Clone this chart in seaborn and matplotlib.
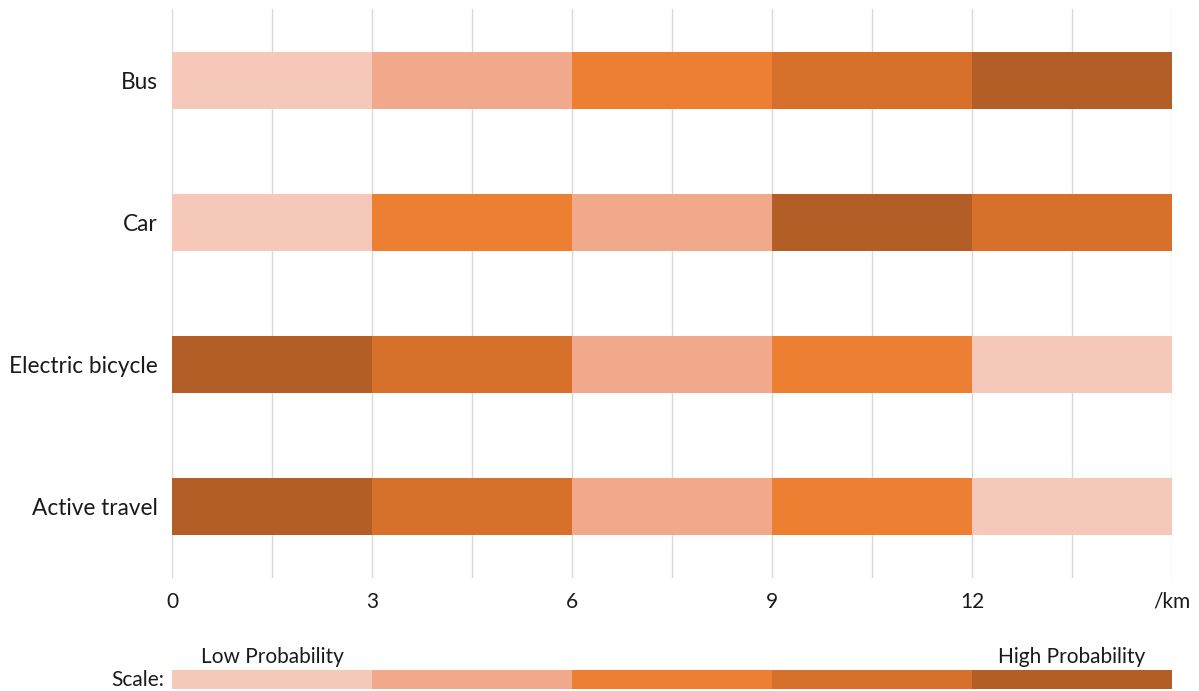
import matplotlib
matplotlib.use("Agg")
import matplotlib.pyplot as plt
import seaborn as sns
import pandas as pd
import numpy as np

categories = ["Bus", "Car", "Electric bicycle", "Active travel"]
segment_width_km = 3
n_segments = 5
# probability level (1 = low ... 5 = high) of each 3-km segment, 0-3, 3-6, ... 12-15 km
levels = {
    "Bus":              [1, 2, 3, 4, 5],
    "Car":              [1, 3, 2, 5, 4],
    "Electric bicycle": [5, 4, 2, 3, 1],
    "Active travel":    [5, 4, 2, 3, 1],
}
level_colors = {1: "#F6C8B9", 2: "#F0A98A", 3: "#EC7F31", 4: "#D7702B", 5: "#B45E27"}
tick_values = [0, 3, 6, 9, 12, 15]
tick_labels = ["0", "3", "6", "9", "12", "/km"]
scale_levels = [1, 2, 3, 4, 5]

sns.set_theme(style="white")
plt.rcParams["font.family"] = ["Lato", "DejaVu Sans"]

fig = plt.figure(figsize=(11.99, 6.91), dpi=100)
ax = fig.add_axes([172 / 1199, (691 - 578) / 691, 1000 / 1199, 569 / 691])

# stacked bars via overlapping cumulative bars, drawn from the longest to the shortest
for j in range(n_segments - 1, -1, -1):
    end = (j + 1) * segment_width_km
    df = pd.DataFrame({"cat": categories, "end": [end] * len(categories)})
    pal = {c: level_colors[levels[c][j]] for c in categories}
    sns.barplot(data=df, x="end", y="cat", hue="cat", palette=pal, order=categories,
                hue_order=categories, legend=False, width=0.4, saturation=1,
                linewidth=0, ax=ax, zorder=2)

ax.set_xlim(0, 15)
ax.set_ylim(3.5, -0.5)
grid_x = np.arange(0, 15.01, 1.5)
for gx in grid_x:
    ax.axvline(gx, color="#D9D9D9", lw=1, zorder=0)
ax.set_xticks(tick_values)
ax.set_xticklabels(tick_labels, fontsize=15, color="#1a1a1a")
ax.tick_params(axis="x", length=0, pad=10)
ax.tick_params(axis="y", length=0, pad=10, labelsize=16.3, labelcolor="#1a1a1a")
ax.set_xlabel("")
ax.set_ylabel("")
for s in ax.spines.values():
    s.set_visible(False)

# scale bar
sax = fig.add_axes([172 / 1199, 2 / 691, 1000 / 1199, 19 / 691])
for j in range(n_segments - 1, -1, -1):
    sub = pd.DataFrame({"row": ["s"], "end": [(j + 1) * segment_width_km]})
    sns.barplot(data=sub, x="end", y="row", color=level_colors[scale_levels[j]],
                saturation=1, width=1.0, linewidth=0, ax=sax)
sax.set_xlim(0, 15)
sax.set_ylim(0.5, -0.5)
sax.axis("off")
sax.text(-0.12, 0.05, "Scale:", ha="right", va="center", fontsize=15, color="#1a1a1a")
sax.text(1.5, -0.65, "Low Probability", ha="center", va="bottom", fontsize=15, color="#1a1a1a")
sax.text(13.5, -0.65, "High Probability", ha="center", va="bottom", fontsize=15, color="#1a1a1a")

fig.savefig("out.png", dpi=100)
